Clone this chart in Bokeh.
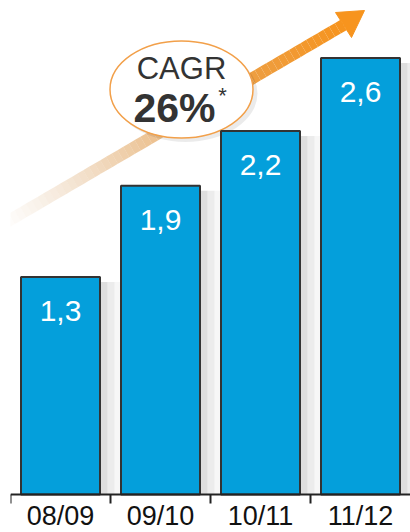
from bokeh.plotting import figure
from bokeh.models import FixedTicker, CustomJSTickFormatter, Range1d
from bokeh.core.properties import value
from bokeh.embed import file_html
from bokeh.resources import INLINE
import numpy as np

categories = ["08/09", "09/10", "10/11", "11/12"]
values = [1.31, 1.86, 2.19, 2.63]          # bar heights as drawn
value_labels = ["1,3", "1,9", "2,2", "2,6"]
cagr_title = "CAGR"
cagr_value = "26%"

FONT = "Liberation Sans"
PX_PER_UNIT = 166.0
FRAME_LEFT = 10
AXIS_Y = 494
H = 532
Y_MAX = AXIS_Y / PX_PER_UNIT
Y_MIN = -(H - AXIS_Y) / PX_PER_UNIT


def px(xp, yp):
    return (xp - FRAME_LEFT) / 100.0, (AXIS_Y - yp) / PX_PER_UNIT


p = figure(width=410, height=H, output_backend="svg", toolbar_location=None,
           x_range=Range1d(0, 4), y_range=Range1d(Y_MIN, Y_MAX),
           min_border_left=FRAME_LEFT, min_border_right=0, min_border_top=0,
           min_border_bottom=0)
p.background_fill_color = "white"
p.border_fill_color = "white"
p.outline_line_color = None
p.xgrid.grid_line_color = None
p.ygrid.grid_line_color = None
p.yaxis.visible = False

xs = [i + 0.5 for i in range(len(categories))]

# ---- arrow (gradient shaft + head) ----
n = 60
x0p, y0p, x1p, y1p = 0.0, 225.0, 343.0, 24.5
c0 = np.array([0xdc, 0xb5, 0x8a]); c1 = np.array([0xf7, 0x94, 0x1e])
sx0, sy0, sx1, sy1, cols, alphas = [], [], [], [], [], []
for i in range(n):
    t0 = i / n; t1 = (i + 1) / n
    a, b = px(x0p + (x1p - x0p) * t0, y0p + (y1p - y0p) * t0)
    c, d = px(x0p + (x1p - x0p) * t1, y0p + (y1p - y0p) * t1)
    sx0.append(a); sy0.append(b); sx1.append(c); sy1.append(d)
    tm = (i + 0.5) / n
    col = c0 + (c1 - c0) * min(1, tm ** 1.3)
    cols.append("#%02x%02x%02x" % tuple(int(v) for v in col))
    alphas.append(min(1.0, tm * 1.6))
p.segment(sx0, sy0, sx1, sy1, line_color=cols, line_alpha=alphas, line_width=12,
          line_cap="butt")
head = [px(335, 12), px(364, 10), px(351, 37)]
p.patch([h[0] for h in head], [h[1] for h in head], fill_color="#f7941e",
        line_color="#f7941e", line_width=1)

# ---- CAGR bubble ----
ex, ey = px(181, 89)
sx, sy = px(185, 93)
p.ellipse(x=[sx], y=[sy], width=1.44, height=97 / PX_PER_UNIT, fill_color="#000000",
          fill_alpha=0.08, line_color=None)
p.ellipse(x=[ex], y=[ey], width=1.43, height=97 / PX_PER_UNIT, fill_color="white",
          line_color="#f2a04a", line_width=1.5)
tx, ty = px(181, 68)
p.text(x=[tx], y=[ty], text=[cagr_title], text_font=value(FONT), text_font_size="31px",
       text_color="#333333", text_align="center", text_baseline="middle")
tx, ty = px(174, 107)
p.text(x=[tx], y=[ty], text=[cagr_value], text_font=value(FONT), text_font_size="41px",
       text_font_style="bold", text_color="#333333", text_align="center",
       text_baseline="middle")
tx, ty = px(222, 95)
p.text(x=[tx], y=[ty], text=["*"], text_font=value(FONT), text_font_size="22px",
       text_color="#333333", text_align="center", text_baseline="middle")

# ---- bar shadows ----
for k, (w, a) in enumerate([(0.07, 0.28), (0.07, 0.16), (0.07, 0.07)]):
    left = [x + 0.40 + k * 0.07 for x in xs]
    p.quad(left=left, right=[l + w for l in left], bottom=0,
           top=[v - 0.03 for v in values], fill_color="#888888", fill_alpha=a,
           line_color=None)

# ---- bars ----
p.vbar(x=xs, width=0.79, top=values, bottom=0, fill_color="#049fdb",
       line_color="#333333", line_width=2)
p.text(x=xs, y=values, text=value_labels, text_font=value(FONT), text_font_size="30px",
       text_color="white", text_align="center", text_baseline="middle", y_offset=34)

# ---- axis ----
ax = p.xaxis[0]
ax.fixed_location = 0
ax.ticker = FixedTicker(ticks=xs, minor_ticks=[0, 1, 2, 3])
ax.formatter = CustomJSTickFormatter(args=dict(labels=categories),
                                     code="return labels[Math.floor(tick)] || '';")
ax.major_tick_out = 0
ax.major_tick_in = 0
ax.minor_tick_out = 9
ax.minor_tick_in = 0
ax.minor_tick_line_color = "#222222"
ax.minor_tick_line_width = 2
ax.axis_line_color = "#222222"
ax.axis_line_width = 2
ax.major_label_text_font = FONT
ax.major_label_text_font_size = "27px"
ax.major_label_text_color = "#111111"
ax.major_label_standoff = -3

open("out.html", "w").write(file_html(p, INLINE))
